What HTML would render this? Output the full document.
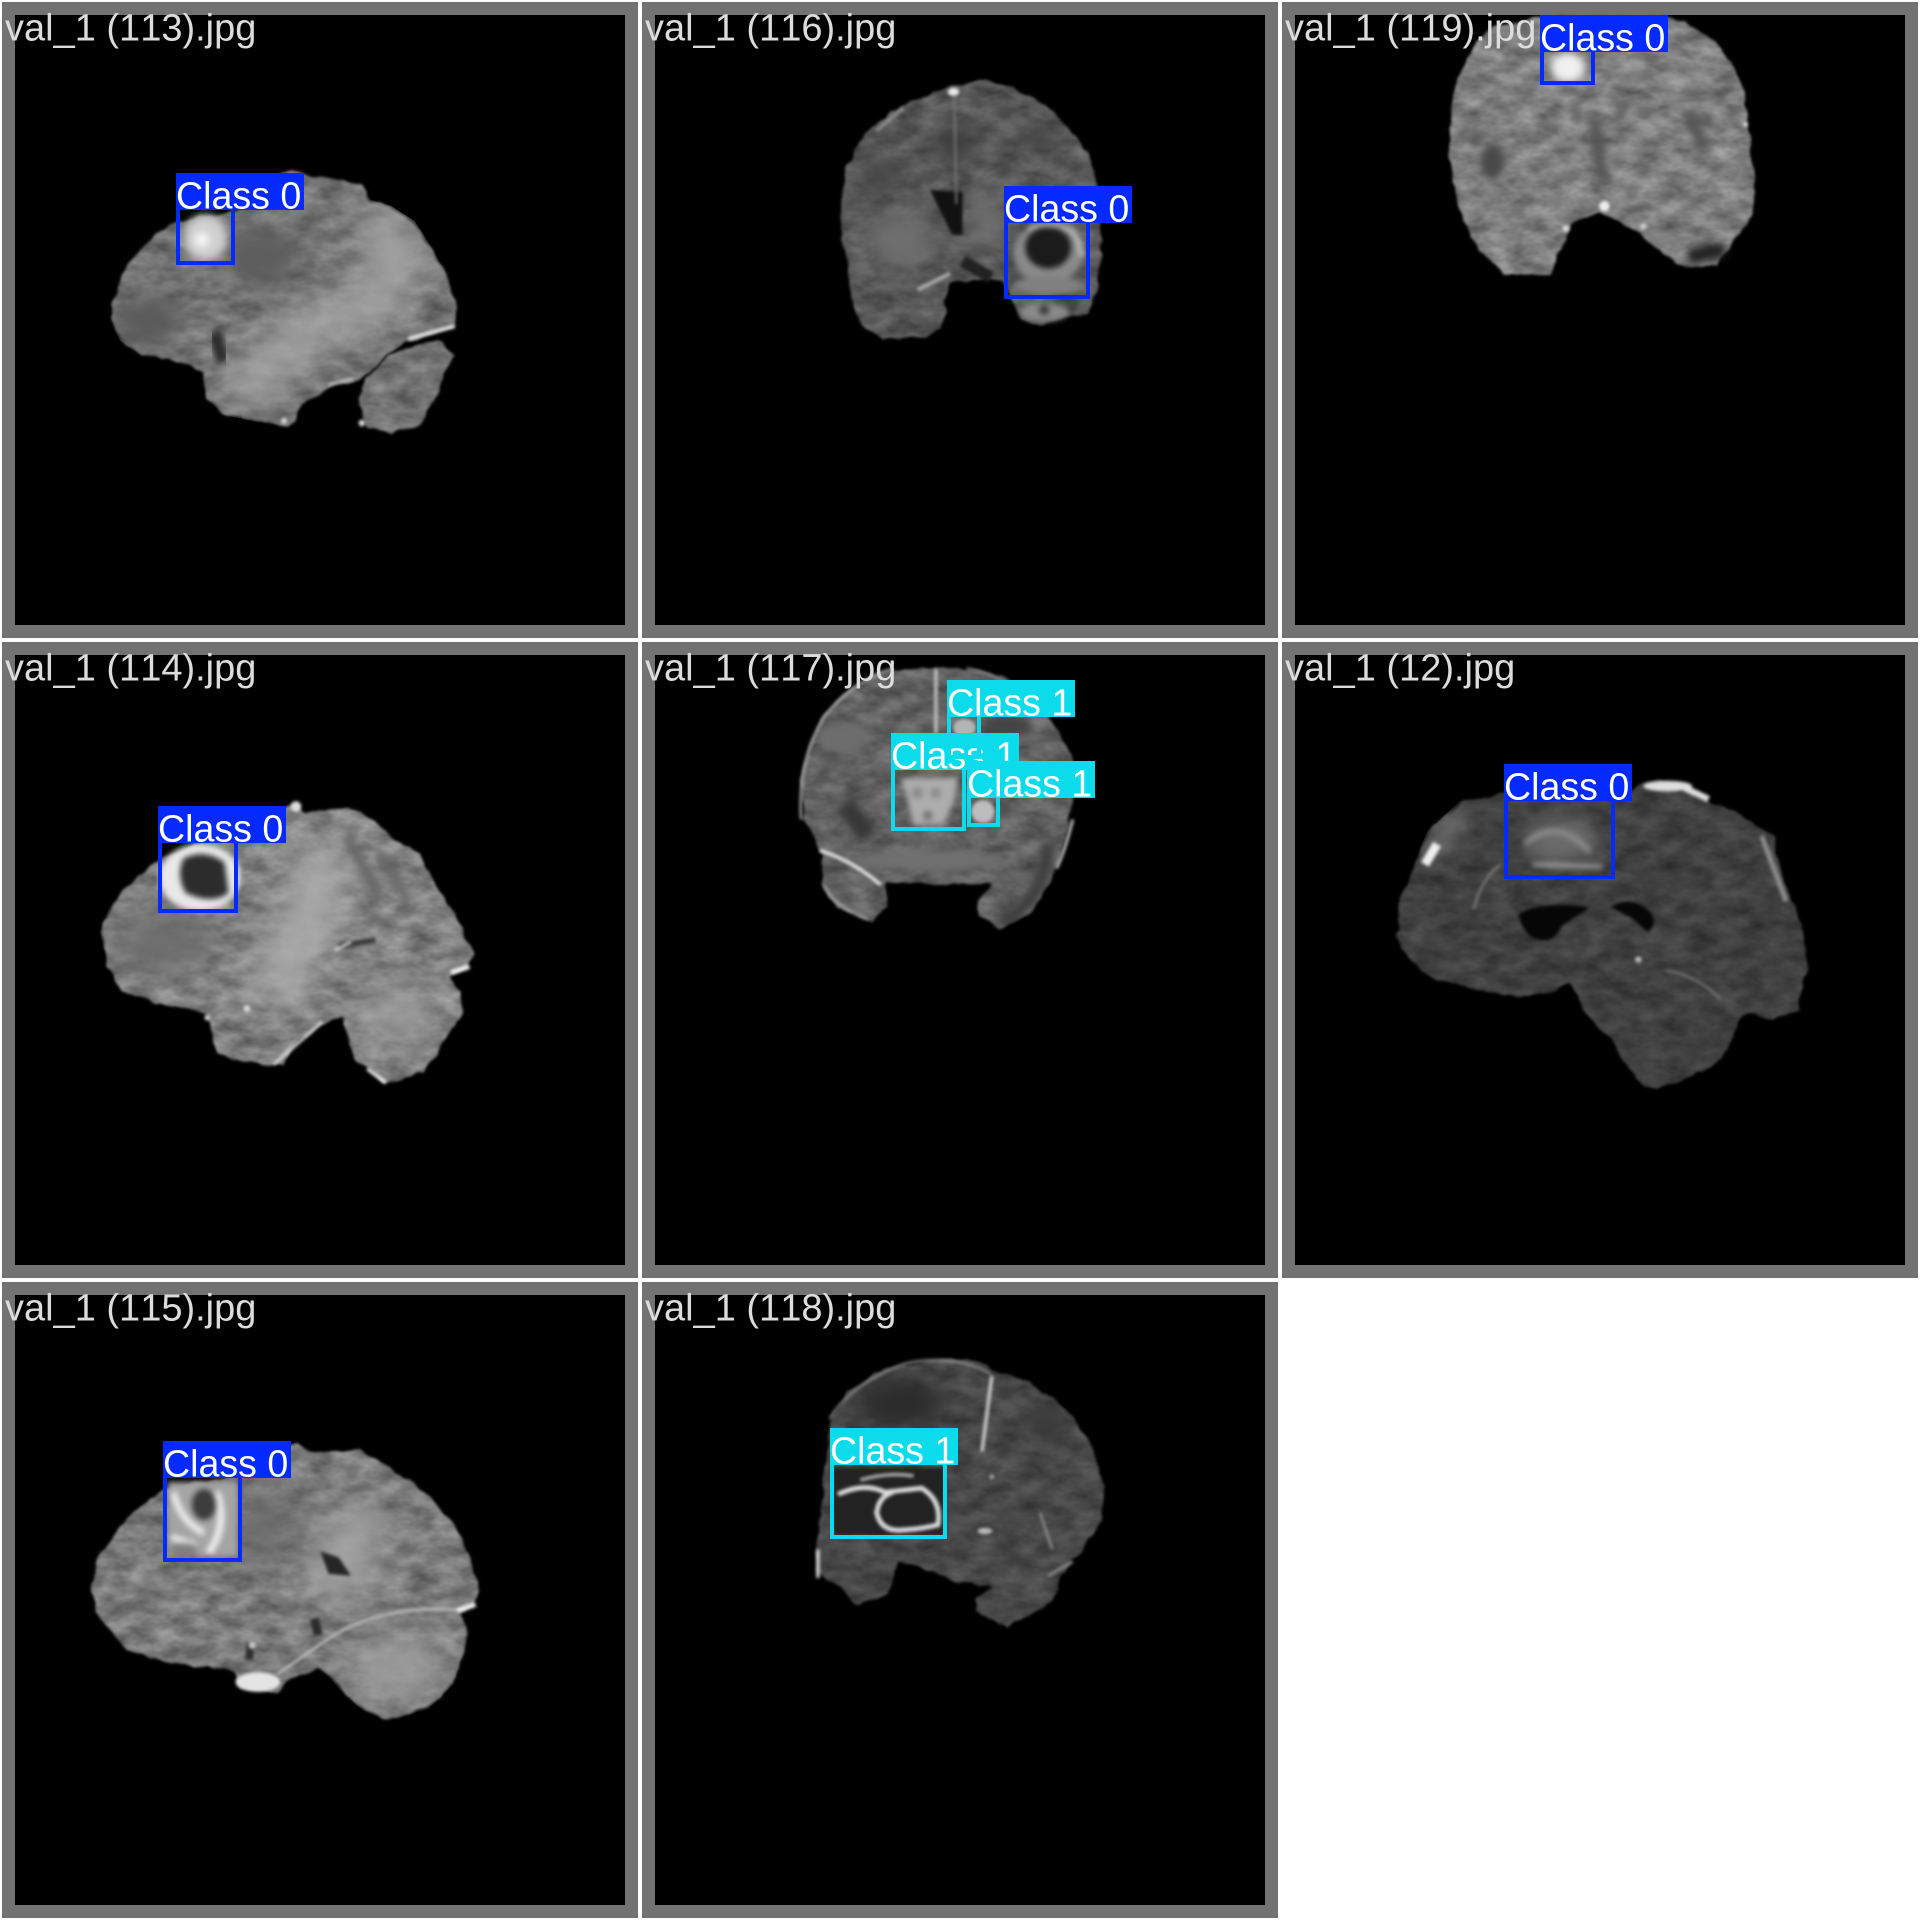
<!DOCTYPE html>
<html lang="en">
<head>
<meta charset="utf-8">
<title>Validation batch detections</title>
<style>
html,body{margin:0;padding:0;background:#fff;width:1920px;height:1920px;overflow:hidden}
svg{display:block}
text{font-family:"Liberation Sans",Arial,sans-serif;font-size:37.6px;font-kerning:none}
.title{fill:#dcdcdc;font-size:38px}
.frame{fill:#727272}
.img{fill:#000}
</style>
</head>
<body>
<svg id="mosaic" xmlns="http://www.w3.org/2000/svg" width="1920" height="1920" viewBox="0 0 1920 1920">
<defs>
<filter id="tex" x="-5%" y="-5%" width="110%" height="110%" color-interpolation-filters="sRGB">
<feTurbulence type="fractalNoise" baseFrequency="0.028" numOctaves="2" seed="3" result="w"/>
<feDisplacementMap in="SourceGraphic" in2="w" scale="18" xChannelSelector="R" yChannelSelector="G" result="d"/>
<feGaussianBlur in="d" stdDeviation="4" result="s"/>
<feTurbulence type="fractalNoise" baseFrequency="0.016 0.028" numOctaves="3" seed="7" result="n"/>
<feColorMatrix in="n" type="matrix" values="0.42 0 0 0 0.29 0.42 0 0 0 0.29 0.42 0 0 0 0.29 0 0 0 0 1" result="g"/>
<feComposite in="s" in2="g" operator="arithmetic" k1="1.9" k2="0.05" k3="0" k4="0" result="m"/>
<feComposite in="m" in2="s" operator="in"/>
</filter>
<filter id="b4" x="-30%" y="-30%" width="160%" height="160%" color-interpolation-filters="sRGB"><feGaussianBlur stdDeviation="4"/></filter>
<filter id="b7" x="-30%" y="-30%" width="160%" height="160%" color-interpolation-filters="sRGB"><feGaussianBlur stdDeviation="7"/></filter>
<filter id="b10" x="-40%" y="-40%" width="180%" height="180%" color-interpolation-filters="sRGB"><feGaussianBlur stdDeviation="10"/></filter>
<filter id="b25" x="-50%" y="-50%" width="200%" height="200%" color-interpolation-filters="sRGB"><feGaussianBlur stdDeviation="25"/></filter>
<filter id="b45" x="-60%" y="-60%" width="220%" height="220%" color-interpolation-filters="sRGB"><feGaussianBlur stdDeviation="45"/></filter>
</defs>
<rect width="1920" height="1920" fill="#fff"/>

<!-- val_1 (113) -->
<g transform="translate(0,0)">
<rect class="frame" x="2" y="2" width="636" height="636"/>
<rect class="img" x="15" y="15" width="610" height="610"/>
<g transform="scale(.4209)">
<clipPath id="c113"><use href="#p113a"/><use href="#p113b"/></clipPath>
<polygon id="p113a" filter="url(#tex)" fill="#747474" points="265,725 285,660 320,605 370,555 418,525 560,500 640,420 690,405 720,412 780,420 860,435 880,475 930,490 985,525 1020,580 1060,650 1090,730 1085,775 1020,800 960,815 900,870 855,905 800,915 720,960 700,1005 680,1012 600,1000 530,985 490,945 480,890 450,870 400,855 330,840 285,810 265,760"/>
<polygon id="p113b" filter="url(#tex)" fill="#727272" points="1040,810 1078,845 1050,920 1000,1010 930,1035 870,1015 850,960 865,900 930,840 990,815"/>
<g clip-path="url(#c113)"><g filter="url(#b45)"><path d="M560 960L700 800L860 740L960 620L880 500" fill="none" stroke="#a8a8a8" stroke-width="100"/></g>
<g filter="url(#b25)"><ellipse cx="620" cy="610" rx="90" ry="70" fill="#5e5e5e"/><ellipse cx="350" cy="760" rx="80" ry="60" fill="#5b5b5b"/></g></g>
<g filter="url(#b7)"><path d="M510 790L530 860" stroke="#2e2e2e" stroke-width="30"/></g>
<g filter="url(#b4)"><path d="M970 805L1080 775" stroke="#eee" stroke-width="9"/><circle cx="675" cy="1000" r="7" fill="#ddd"/><circle cx="860" cy="1005" r="8" fill="#ddd"/><path d="M780 915L840 900" stroke="#ccc" stroke-width="6"/></g>
<g filter="url(#b10)"><ellipse cx="488" cy="565" rx="52" ry="55" fill="#d0d0d0"/><circle cx="480" cy="570" r="16" fill="#fff"/></g>
</g>
<text class="title" x="5" y="40.5">val_1 (113).jpg</text>
</g>

<!-- val_1 (116) -->
<g transform="translate(640,0)">
<rect class="frame" x="2" y="2" width="636" height="636"/>
<rect class="img" x="15" y="15" width="610" height="610"/>
<g transform="scale(.40816)">
<clipPath id="c116"><use href="#p116"/></clipPath>
<polygon id="p116" filter="url(#tex)" fill="#585858" points="490,500 500,420 540,340 590,290 650,255 720,222 770,208 830,195 900,208 980,250 1050,310 1100,370 1122,450 1125,540 1135,620 1120,720 1100,770 1040,780 980,798 930,785 915,740 885,690 860,688 760,695 750,740 745,810 700,825 590,830 540,800 515,720 505,640 488,560"/>
<g clip-path="url(#c116)"><g filter="url(#b25)"><ellipse cx="770" cy="350" rx="50" ry="50" fill="#404040"/><ellipse cx="590" cy="430" rx="50" ry="40" fill="#464646"/><ellipse cx="980" cy="340" rx="50" ry="30" fill="#444"/><ellipse cx="640" cy="590" rx="80" ry="70" fill="#6e6e6e"/><ellipse cx="850" cy="540" rx="40" ry="70" fill="#707070"/></g></g>
<g filter="url(#b4)"><polygon points="710,465 790,470 790,575 765,575" fill="#111"/><path d="M770 230L775 500" stroke="#777" stroke-width="5"/><ellipse cx="768" cy="225" rx="14" ry="10" fill="#eaeaea"/><path d="M680 710L760 670" stroke="#aaa" stroke-width="10"/><path d="M580 320L645 265" stroke="#999" stroke-width="6"/><path d="M790 640L860 680" stroke="#222" stroke-width="30"/></g>
<g filter="url(#b7)"><ellipse cx="1000" cy="620" rx="85" ry="72" fill="#8a8a8a"/><ellipse cx="1000" cy="606" rx="56" ry="52" fill="#1b1b1b"/><path d="M950 560Q1000 540 1060 565Q1080 590 1082 630" fill="none" stroke="#ddd" stroke-width="8"/><ellipse cx="1000" cy="700" rx="85" ry="24" fill="#808080"/><ellipse cx="990" cy="765" rx="60" ry="22" fill="#8a8a8a"/><circle cx="990" cy="760" r="12" fill="#333"/><circle cx="1060" cy="755" r="10" fill="#333"/></g>
</g>
<text class="title" x="5" y="40.5">val_1 (116).jpg</text>
</g>

<!-- val_1 (119) -->
<g transform="translate(1280,0)">
<rect class="frame" x="2" y="2" width="636" height="636"/>
<rect class="img" x="15" y="15" width="610" height="610"/>
<g transform="scale(.40816)">
<polygon filter="url(#tex)" fill="#7e7e7e" points="415,290 420,230 445,170 470,115 520,60 640,40 950,40 1000,55 1070,100 1130,190 1150,300 1165,440 1160,530 1110,600 1070,650 990,660 940,625 880,570 780,520 720,550 690,610 665,675 545,675 490,620 440,530 415,400"/>
<g filter="url(#b10)"><ellipse cx="520" cy="400" rx="30" ry="40" fill="#494949"/><ellipse cx="480" cy="340" rx="18" ry="20" fill="#5a5a5a"/><path d="M770 290L790 440" stroke="#555" stroke-width="28"/><path d="M720 250L730 300" stroke="#626262" stroke-width="22"/><path d="M850 245L825 295" stroke="#5c5c5c" stroke-width="20"/><path d="M1000 270L1040 370" stroke="#565656" stroke-width="30"/><path d="M1000 630L1090 610" stroke="#222" stroke-width="38"/><ellipse cx="705" cy="165" rx="42" ry="36" fill="#f0f0f0"/></g>
<g filter="url(#b4)"><circle cx="795" cy="505" r="13" fill="#eee"/><circle cx="700" cy="560" r="8" fill="#ddd"/><circle cx="890" cy="555" r="8" fill="#ccc"/><circle cx="1140" cy="305" r="6" fill="#ddd"/></g>
</g>
<text class="title" x="5" y="40.5">val_1 (119).jpg</text>
</g>

<!-- val_1 (114) -->
<g transform="translate(0,640)">
<rect class="frame" x="2" y="2" width="636" height="636"/>
<rect class="img" x="15" y="15" width="610" height="610"/>
<g transform="scale(.40816)">
<clipPath id="c114"><use href="#p114"/></clipPath>
<polygon id="p114" filter="url(#tex)" fill="#808080" points="245,715 265,660 310,600 390,535 560,470 700,410 730,400 745,420 850,408 900,430 960,480 1030,520 1060,590 1120,670 1160,770 1145,810 1100,825 1135,860 1130,920 1080,1000 1040,1060 945,1090 900,1050 870,1030 850,980 840,925 790,940 720,1000 700,1040 660,1045 580,1030 530,1015 515,950 500,915 400,895 300,865 265,800"/>
<g clip-path="url(#c114)"><g filter="url(#b45)"><path d="M660 880L760 680L800 500" fill="none" stroke="#ababab" stroke-width="130"/><ellipse cx="400" cy="740" rx="130" ry="80" fill="#6c6c6c"/><ellipse cx="970" cy="920" rx="90" ry="60" fill="#a0a0a0"/></g>
<g filter="url(#b10)"><path d="M850 480L930 630" stroke="#666" stroke-width="22"/><path d="M930 520L1000 640" stroke="#686868" stroke-width="22"/></g></g>
<g filter="url(#b4)"><path d="M830 750L920 735" stroke="#3c3c3c" stroke-width="14"/><path d="M820 760L860 740" stroke="#ddd" stroke-width="6"/><path d="M1105 815L1150 800" stroke="#f0f0f0" stroke-width="12"/><path d="M900 1050L945 1085" stroke="#f2f2f2" stroke-width="9"/><path d="M670 1040L790 935" stroke="#d0d0d0" stroke-width="8"/><circle cx="725" cy="408" r="13" fill="#ddd"/><circle cx="605" cy="903" r="8" fill="#ddd"/><circle cx="508" cy="925" r="7" fill="#ddd"/></g>
<g filter="url(#b7)"><ellipse cx="490" cy="582" rx="100" ry="82" fill="#e8e8e8"/><path d="M450 535Q500 510 550 545L560 620Q520 650 455 620Q430 575 450 535Z" fill="#2c2c2c"/></g>
</g>
<text class="title" x="5" y="40.5">val_1 (114).jpg</text>
</g>

<!-- val_1 (117) -->
<g transform="translate(640,640)">
<rect class="frame" x="2" y="2" width="636" height="636"/>
<rect class="img" x="15" y="15" width="610" height="610"/>
<g transform="scale(.40816)">
<clipPath id="c117"><use href="#p117"/></clipPath>
<polygon id="p117" filter="url(#tex)" fill="#616161" points="390,340 410,260 450,180 510,120 600,75 720,65 800,68 900,90 1000,180 1060,280 1062,400 1050,460 1020,570 960,670 880,712 830,680 825,640 860,600 720,600 600,590 608,650 570,690 480,660 445,600 440,520 400,440"/>
<g clip-path="url(#c117)"><g filter="url(#b10)"><path d="M500 400L560 480" stroke="#383838" stroke-width="50"/><ellipse cx="500" cy="240" rx="60" ry="40" fill="#6d6d6d"/><ellipse cx="900" cy="210" rx="60" ry="26" fill="#454545"/><path d="M880 690Q990 650 1000 500" fill="none" stroke="#3f3f3f" stroke-width="30"/><ellipse cx="710" cy="540" rx="180" ry="26" fill="#707070"/></g></g>
<g filter="url(#b4)"><path d="M725 70L725 230" stroke="#c5c5c5" stroke-width="8"/><path d="M395 440Q385 300 450 190Q520 100 620 70" fill="none" stroke="#aaa" stroke-width="6"/><path d="M800 70Q900 85 1000 190" fill="none" stroke="#999" stroke-width="5"/><path d="M440 515Q520 540 590 600" fill="none" stroke="#e2e2e2" stroke-width="9"/><path d="M1060 440Q1040 520 1020 560" fill="none" stroke="#cfcfcf" stroke-width="7"/><path d="M450 600Q470 650 560 685" fill="none" stroke="#aaa" stroke-width="6"/>
<ellipse cx="795" cy="215" rx="28" ry="22" fill="#b4b4b4"/><circle cx="840" cy="420" r="28" fill="#bdbdbd"/></g>
<g filter="url(#b7)"><polygon points="640,340 780,335 770,395 745,450 670,455 655,390" fill="#adadad"/><circle cx="680" cy="375" r="14" fill="#8a8a8a"/><circle cx="725" cy="375" r="13" fill="#8a8a8a"/><circle cx="705" cy="430" r="11" fill="#6a6a6a"/></g>
</g>
<text class="title" x="5" y="40.5">val_1 (117).jpg</text>
</g>

<!-- val_1 (12) -->
<g transform="translate(1280,640)">
<rect class="frame" x="2" y="2" width="636" height="636"/>
<rect class="img" x="15" y="15" width="610" height="610"/>
<g transform="scale(.40816)">
<clipPath id="c12"><use href="#p12"/></clipPath>
<polygon id="p12" filter="url(#tex)" fill="#404040" points="285,730 290,640 320,570 360,470 440,395 550,375 860,370 900,340 990,355 1050,395 1120,420 1210,480 1240,600 1280,700 1295,800 1270,910 1210,930 1130,920 1100,1000 1060,1050 920,1105 870,1080 810,980 740,910 710,840 660,870 580,875 480,860 370,830 320,790"/>
<g clip-path="url(#c12)"><g filter="url(#b25)"><ellipse cx="690" cy="490" rx="90" ry="55" fill="#6c6c6c"/><path d="M440 420L370 530" stroke="#808080" stroke-width="40"/></g></g>
<g filter="url(#b7)"><path d="M600 500Q680 430 760 520" fill="none" stroke="#8c8c8c" stroke-width="14"/><path d="M620 550L790 555" stroke="#b0b0b0" stroke-width="9"/></g>
<g filter="url(#b4)"><ellipse cx="950" cy="358" rx="60" ry="13" fill="#dedede"/><path d="M990 362L1050 390" stroke="#dedede" stroke-width="16"/><path d="M1180 480L1240 640" stroke="#8c8c8c" stroke-width="12"/><path d="M355 550L385 500" stroke="#eee" stroke-width="22"/><path d="M475 660Q490 590 540 550" fill="none" stroke="#777" stroke-width="6"/>
<path d="M585 670Q640 640 760 655L690 700Q670 750 620 730Q590 710 585 670" fill="#060606"/><path d="M810 655Q860 620 910 670Q925 700 900 715L860 680Q830 665 810 655" fill="#060606"/><circle cx="878" cy="783" r="8" fill="#bbb"/><path d="M945 810Q1020 820 1080 880" fill="none" stroke="#777" stroke-width="5"/></g>
</g>
<text class="title" x="5" y="40.5">val_1 (12).jpg</text>
</g>

<!-- val_1 (115) -->
<g transform="translate(0,1280)">
<rect class="frame" x="2" y="2" width="636" height="636"/>
<rect class="img" x="15" y="15" width="610" height="610"/>
<g transform="scale(.40816)">
<clipPath id="c115"><use href="#p115"/></clipPath>
<polygon id="p115" filter="url(#tex)" fill="#7a7a7a" points="220,760 235,680 310,580 400,510 560,480 730,395 760,420 880,415 990,480 1050,525 1120,600 1175,740 1165,800 1130,820 1150,870 1110,990 1050,1050 950,1080 890,1055 830,1000 785,950 700,990 680,1010 590,1005 575,960 480,945 400,935 310,910 240,830"/>
<g clip-path="url(#c115)"><g filter="url(#b45)"><path d="M800 780L900 560" stroke="#a4a4a4" stroke-width="130"/><ellipse cx="970" cy="950" rx="120" ry="70" fill="#a0a0a0"/><ellipse cx="650" cy="600" rx="70" ry="90" fill="#6a6a6a"/></g></g>
<g filter="url(#b4)"><polygon points="785,665 830,680 860,725 805,720" fill="#262626"/><path d="M770 830L780 870" stroke="#2c2c2c" stroke-width="22"/><path d="M615 890L610 930" stroke="#2e2e2e" stroke-width="20"/><circle cx="618" cy="895" r="9" fill="#c8c8c8"/><ellipse cx="632" cy="985" rx="55" ry="24" fill="#e4e4e4"/><path d="M680 965L810 875Q950 790 1140 810" fill="none" stroke="#b8b8b8" stroke-width="7"/><path d="M1120 810L1165 795" stroke="#f0f0f0" stroke-width="12"/></g>
<g filter="url(#b7)"><rect x="410" y="495" width="172" height="180" fill="#a4a4a4"/><path d="M425 520Q440 590 500 620" fill="none" stroke="#eee" stroke-width="16"/><path d="M530 520Q560 600 510 670" fill="none" stroke="#eee" stroke-width="18"/><ellipse cx="500" cy="550" rx="30" ry="38" fill="#3c3c3c"/><path d="M420 630L480 650" stroke="#eee" stroke-width="14"/><ellipse cx="450" cy="660" rx="34" ry="16" fill="#808080"/></g>
</g>
<text class="title" x="5" y="40.5">val_1 (115).jpg</text>
</g>

<!-- val_1 (118) -->
<g transform="translate(640,1280)">
<rect class="frame" x="2" y="2" width="636" height="636"/>
<rect class="img" x="15" y="15" width="610" height="610"/>
<g transform="scale(.40816)">
<clipPath id="c118"><use href="#p118"/></clipPath>
<polygon id="p118" filter="url(#tex)" fill="#484848" points="430,720 430,660 440,560 465,340 510,270 600,215 720,195 810,190 880,225 960,250 1060,330 1110,410 1140,500 1130,600 1080,670 1030,730 1010,790 900,855 820,810 820,780 860,750 790,745 700,710 630,690 610,770 530,800 480,750"/>
<g clip-path="url(#c118)"><g filter="url(#b25)"><ellipse cx="640" cy="300" rx="110" ry="60" fill="#2c2c2c"/><ellipse cx="1000" cy="350" rx="50" ry="50" fill="#3a3a3a"/></g></g>
<g filter="url(#b4)"><path d="M465 340Q520 250 650 205Q770 180 860 230" fill="none" stroke="#888" stroke-width="6"/><path d="M862 235L838 420" stroke="#d5d5d5" stroke-width="8"/><path d="M436 660L436 730" stroke="#e0e0e0" stroke-width="8"/><path d="M1000 725L1060 690" stroke="#888" stroke-width="8"/><path d="M980 570L1010 660" stroke="#8c8c8c" stroke-width="6"/><ellipse cx="845" cy="615" rx="18" ry="8" fill="#bbb"/><circle cx="862" cy="482" r="6" fill="#aaa"/>
<rect x="475" y="460" width="270" height="165" fill="#222"/></g>
<g filter="url(#b4)"><path d="M485 525Q550 495 600 520L690 510Q740 540 730 600Q690 610 650 612Q590 620 580 570Q585 530 620 520" fill="none" stroke="#dadada" stroke-width="12"/><path d="M540 490Q610 470 670 480" fill="none" stroke="#aaa" stroke-width="9"/></g>
</g>
<text class="title" x="5" y="40.5">val_1 (118).jpg</text>
</g>

<g id="detections"></g>
</svg>

<script>
// Detection values, in mosaic pixels relative to each tile's origin. Listed in drawing order.
const detectionTiles   = ["113", "116", "119", "114", "117b", "117a", "117c", "12", "115", "118"];
const detectionColumns = [0, 1, 2, 0, 1, 1, 1, 2, 0, 1];
const detectionRows    = [0, 0, 0, 1, 1, 1, 1, 1, 2, 2];
const detectionClasses = [0, 0, 0, 0, 1, 1, 1, 0, 0, 1];
const boxLeft   = [176, 364, 260, 158, 251, 307, 327, 224, 163, 190];
const boxTop    = [210, 223,  52, 203, 130,  77, 158, 161, 198, 185];
const boxRight  = [235, 450, 315, 238, 326, 341, 360, 335, 242, 307];
const boxBottom = [265, 299,  85, 273, 191, 119, 187, 239, 282, 259];
const classNames  = ["Class 0", "Class 1"];
const classColors = ["#042aff", "#0bdbeb"];
const labelWidth = 128;
const labelHeight = 37;
const strokeWidth = 4;
const tileSize = 640;

const svgNS = "http://www.w3.org/2000/svg";
const layer = document.getElementById("detections");

detectionTiles.forEach(function (tile, i) {
  const ox = detectionColumns[i] * tileSize;
  const oy = detectionRows[i] * tileSize;
  const cls = detectionClasses[i];
  const color = classColors[cls];

  const box = document.createElementNS(svgNS, "rect");
  
  
  box.setAttribute("x", ox + boxLeft[i] + strokeWidth / 2);
  box.setAttribute("y", oy + boxTop[i] - strokeWidth / 2);
  box.setAttribute("width", boxRight[i] - boxLeft[i] - strokeWidth);
  box.setAttribute("height", boxBottom[i] - boxTop[i]);
  box.setAttribute("fill", "none");
  box.setAttribute("stroke", color);
  box.setAttribute("stroke-width", strokeWidth);
  layer.appendChild(box);

  const bg = document.createElementNS(svgNS, "rect");
  
  
  bg.setAttribute("x", ox + boxLeft[i]);
  bg.setAttribute("y", oy + boxTop[i] - labelHeight);
  bg.setAttribute("width", labelWidth);
  bg.setAttribute("height", labelHeight);
  bg.setAttribute("fill", color);
  layer.appendChild(bg);

  const label = document.createElementNS(svgNS, "text");
  
  
  label.setAttribute("x", ox + boxLeft[i]);
  label.setAttribute("y", oy + boxTop[i] - 1.5);
  label.setAttribute("fill", "#fff");
  label.textContent = classNames[cls];
  layer.appendChild(label);
});
</script>
</body>
</html>
